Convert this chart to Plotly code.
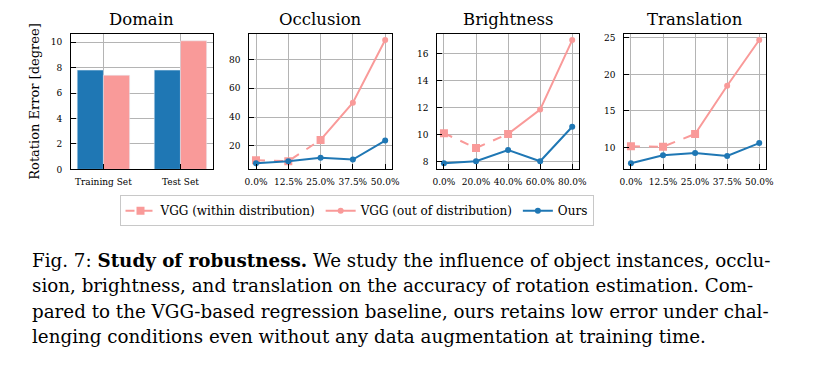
import plotly.graph_objects as go

W, H = 826, 373
OFF = 8  # browser body margin compensation (px)

# ---------------- data ----------------
domain_cats = ["Training Set", "Test Set"]
domain_ours = [7.8, 7.8]
domain_vgg = [7.4, 10.1]

occ_labels = ["0.0%", "12.5%", "25.0%", "37.5%", "50.0%"]
occ_within = [10.0, 9.3, 24.1]
occ_out = [24.1, 49.9, 93.5]
occ_ours = [7.9, 9.3, 11.6, 10.4, 23.6]

bri_labels = ["0.0%", "20.0%", "40.0%", "60.0%", "80.0%"]
bri_within = [10.1, 9.0, 10.05]
bri_out = [10.05, 11.85, 17.0]
bri_ours = [7.88, 8.02, 8.85, 8.02, 10.58]

tra_labels = ["0.0%", "12.5%", "25.0%", "37.5%", "50.0%"]
tra_within = [10.15, 10.1, 11.85]
tra_out = [11.85, 18.45, 24.7]
tra_ours = [7.84, 8.92, 9.25, 8.84, 10.6]

titles = ["Domain", "Occlusion", "Brightness", "Translation"]
caption_lines = [
    "Fig. 7: <b>Study of robustness.</b> We study the influence of object instances, occlu-",
    "sion, brightness, and translation on the accuracy of rotation estimation. Com-",
    "pared to the VGG-based regression baseline, ours retains low error under chal-",
    "lenging conditions even without any data augmentation at training time.",
]

BLUE = "#1f77b4"
PINK = "#f99a99"
GRID = "#b4b4b4"
FONT = "DejaVu Serif"


def px_x(p):
    return (p - OFF) / W


def px_y(p):
    return 1 - (p - OFF) / H


# ---------------- layout geometry (pixels) ----------------
panels_x = [(67, 211), (248, 393), (439, 583), (629, 773)]
top_px, bot_px = 33, 171
ydom = [px_y(bot_px), px_y(top_px)]

fig = go.Figure()

# Domain bars
fig.add_trace(go.Bar(x=domain_cats, y=domain_ours, marker_color=BLUE, showlegend=False,
                     xaxis="x", yaxis="y"))
fig.add_trace(go.Bar(x=domain_cats, y=domain_vgg, marker_color=PINK, showlegend=False,
                     xaxis="x", yaxis="y"))

series = [
    (occ_labels, occ_within, occ_out, occ_ours),
    (bri_labels, bri_within, bri_out, bri_ours),
    (tra_labels, tra_within, tra_out, tra_ours),
]
for i, (labels, within, out, ours) in enumerate(series):
    ax = str(i + 2)
    first = i == 0
    idx = list(range(len(labels)))
    fig.add_trace(go.Scatter(
        x=idx[len(labels) - len(out):], y=out, mode="lines+markers",
        line=dict(color=PINK, width=2), marker=dict(symbol="circle", size=6, color=PINK),
        name="VGG (out of distribution)", showlegend=first, legendrank=2,
        xaxis="x" + ax, yaxis="y" + ax))
    fig.add_trace(go.Scatter(
        x=idx[:len(within)], y=within, mode="lines+markers",
        line=dict(color=PINK, width=2, dash="dash"), marker=dict(symbol="square", size=8, color=PINK),
        name="VGG (within distribution)", showlegend=first, legendrank=1,
        xaxis="x" + ax, yaxis="y" + ax))
    fig.add_trace(go.Scatter(
        x=idx, y=ours, mode="lines+markers",
        line=dict(color=BLUE, width=2), marker=dict(symbol="circle", size=6, color=BLUE),
        name="Ours", showlegend=first, legendrank=3,
        xaxis="x" + ax, yaxis="y" + ax))

axis_common = dict(showline=True, linecolor="black", linewidth=1, mirror=True,
                   showgrid=True, gridcolor=GRID, gridwidth=1, zeroline=False,
                   ticks="inside", ticklen=5, tickcolor="black",
                   tickfont=dict(family=FONT, size=9, color="black"))

yranges = [[0, 10.67], [3.6, 98], [7.42, 17.48], [7.0, 25.58]]
ytickvals = [[0, 2, 4, 6, 8, 10], [20, 40, 60, 80], [8, 10, 12, 14, 16], [10, 15, 20, 25]]
tick_labels = [domain_cats, occ_labels, bri_labels, tra_labels]

layout = dict(
    width=W, height=H, margin=dict(l=0, r=0, t=0, b=0),
    paper_bgcolor="white", plot_bgcolor="white",
    barmode="group", bargap=0.32, bargroupgap=0,
    font=dict(family=FONT, color="black"),
    legend=dict(orientation="h", x=px_x(357), xanchor="center", y=px_y(213), yanchor="middle",
                bordercolor="#c8c8c8", borderwidth=1, bgcolor="white",
                font=dict(family=FONT, size=12, color="black"),
                itemwidth=30, tracegroupgap=0),
)
for i, (x0, x1) in enumerate(panels_x):
    sfx = "" if i == 0 else str(i + 1)
    xa = dict(axis_common, domain=[px_x(x0), px_x(x1)], anchor="y" + sfx, ticklabelstandoff=4)
    if i == 0:
        xa.update(type="category", range=[-0.42, 1.42])
    else:
        xa.update(range=[-0.21, 4.21], tickvals=list(range(5)), ticktext=tick_labels[i])
    ya = dict(axis_common, domain=ydom, anchor="x" + sfx, range=yranges[i], tickvals=ytickvals[i],
              ticklabelstandoff=6)
    layout["xaxis" + sfx] = xa
    layout["yaxis" + sfx] = ya

layout["yaxis"]["title"] = dict(text="Rotation Error [degree]", font=dict(family=FONT, size=13), standoff=8)

annotations = []
for i, (x0, x1) in enumerate(panels_x):
    annotations.append(dict(text=titles[i], x=px_x((x0 + x1) / 2), y=1.0, xref="paper", yref="paper",
                            xanchor="center", yanchor="top", showarrow=False, borderpad=0,
                            font=dict(family=FONT, size=16.5, color="black")))
cap_y = [264, 289.5, 315, 341]
for line, yy in zip(caption_lines, cap_y):
    annotations.append(dict(text=line, x=px_x(25), y=px_y(yy), xref="paper", yref="paper",
                            xanchor="left", yanchor="middle", showarrow=False,
                            font=dict(family=FONT, size=18.3, color="black")))
layout["annotations"] = annotations

fig.update_layout(**layout)
fig.write_html("out.html")
